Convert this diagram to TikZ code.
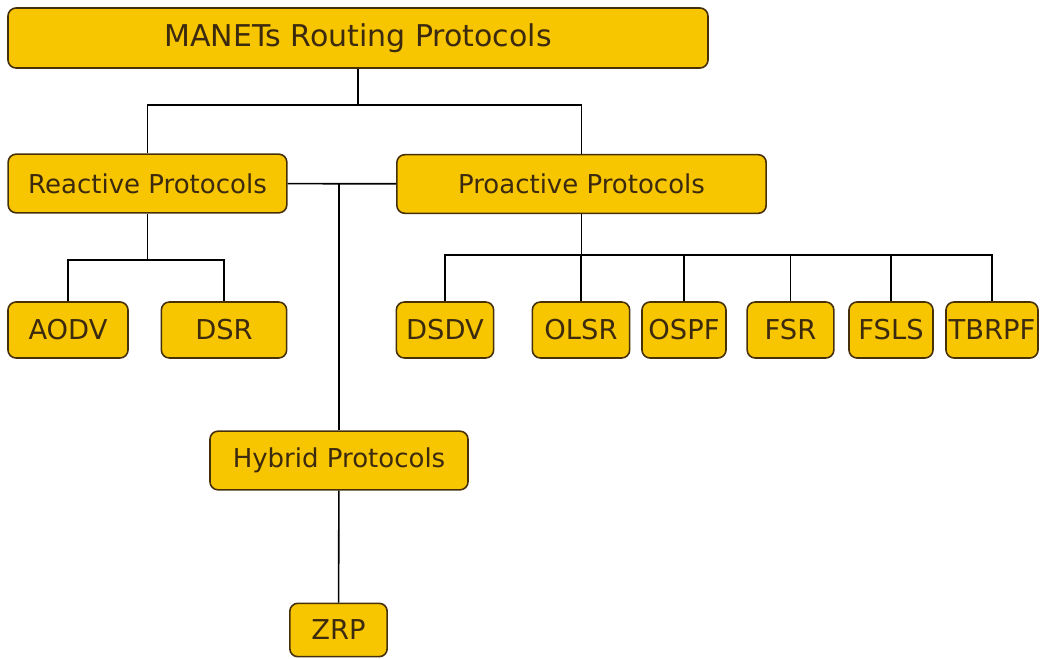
\documentclass[tikz,border=0pt]{standalone}
\usepackage{fontspec}
\setmainfont{DejaVu Sans}
\usepackage{tikz}
\usetikzlibrary{positioning}
\definecolor{boxfill}{RGB}{247,198,0}
\definecolor{boxline}{RGB}{70,48,10}
\definecolor{boxtext}{RGB}{60,42,15}
\tikzset{every picture/.style={line width=1.2pt}}

\begin{document}
\begin{tikzpicture}[x=0.75pt, y=-0.75pt,
    proto/.style={draw=boxline, fill=boxfill, rounded corners=6pt, inner sep=0pt,
        text=boxtext, font=\fontsize{19.5}{21}\selectfont, minimum height=44pt},
    leaf/.style={proto, font=\fontsize{20.5}{22}\selectfont, minimum height=42pt}]
    \useasboundingbox (0,0) rectangle (1042,659);

    % Root
    \node[proto, minimum width=525pt, minimum height=45pt, font=\fontsize{22.5}{24}\selectfont] (manet) at (358,38) {MANETs Routing Protocols};

    % Protocol families
    \node[proto, minimum width=209pt] (reactive) at (147.5,183.5) {Reactive Protocols};
    \node[proto, minimum width=277pt] (proactive) at (581.5,184) {Proactive Protocols};
    \node[proto, minimum width=193.5pt] (hybrid) at (339,460.5) {Hybrid Protocols};

    % Reactive protocols
    \node[leaf, minimum width=90pt] (aodv) at (68,330) {AODV};
    \node[leaf, minimum width=94pt] (dsr) at (224,330) {DSR};

    % Proactive protocols
    \node[leaf, minimum width=73pt] (dsdv) at (445,330) {DSDV};
    \node[leaf, minimum width=73pt] (olsr) at (581,330) {OLSR};
    \node[leaf, minimum width=63pt] (ospf) at (684,330) {OSPF};
    \node[leaf, minimum width=65pt] (fsr) at (790.5,330) {FSR};
    \node[leaf, minimum width=63pt] (fsls) at (891,330) {FSLS};
    \node[leaf, minimum width=69pt] (tbrpf) at (992,330) {TBRPF};

    % Hybrid protocols
    \node[leaf, minimum width=73pt, minimum height=40pt] (zrp) at (338.5,630) {ZRP};

    % Junction points
    \coordinate (rootbus) at (358,105);
    \coordinate (reactbus) at (147.5,260);
    \coordinate (proactbus) at (581.5,255);
    \coordinate (hybridjoin) at (339,184);

    % Root to families
    \draw (manet) -- (rootbus);
    \draw (rootbus) -| (reactive);
    \draw (rootbus) -| (proactive);
    \draw (reactive) -- (proactive);
    \draw (hybridjoin) -- (hybrid);

    % Families to protocols
    \draw (reactive) -- (reactbus);
    \foreach \p in {aodv,dsr}
        \draw (reactbus) -| (\p);
    \draw (proactive) -- (proactbus);
    \foreach \p in {dsdv,olsr,ospf,fsr,fsls,tbrpf}
        \draw (proactbus) -| (\p);
    \draw (hybrid) -- (zrp);
\end{tikzpicture}
\end{document}
